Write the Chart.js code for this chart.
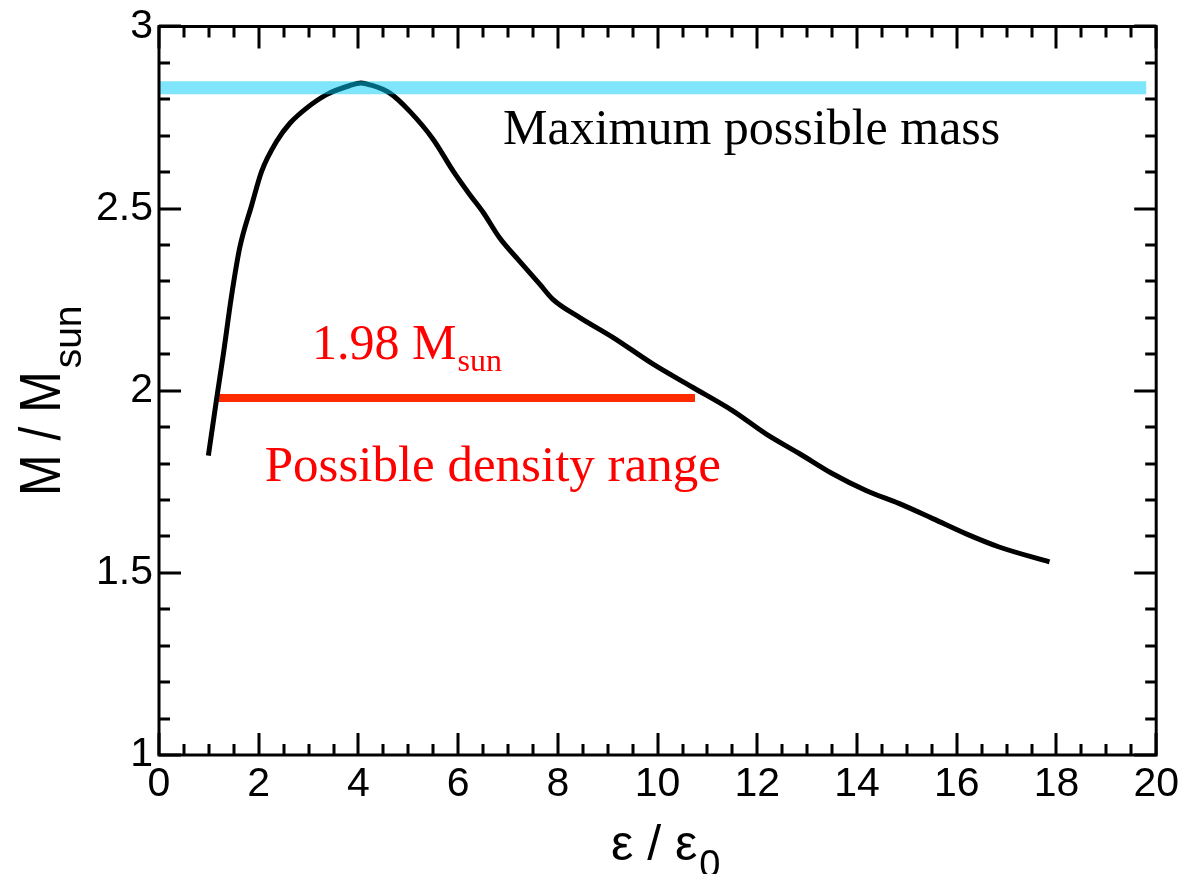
<!DOCTYPE html>
<html>
<head>
<meta charset="utf-8">
<script src="https://cdn.jsdelivr.net/npm/chart.js@4.4.1/dist/chart.umd.min.js"></script>
<style>
  html, body { margin: 0; padding: 0; background: #fff; }
  #wrap { width: 1188px; height: 874px; }
</style>
</head>
<body>
<div id="wrap"><canvas id="massChart" width="1188" height="874"></canvas></div>
<script>
// mass curve M/Msun against central density eps/eps0
const epsValues = [0.99, 1.16, 1.29, 1.46, 1.62, 1.86, 2.06, 2.36, 2.63, 2.96, 3.36, 3.83, 4.05, 4.23, 4.63, 5.03, 5.5, 5.9, 6.23, 6.5, 6.83, 7.23, 7.64, 7.9, 8.44, 9.11, 9.91, 10.71, 11.51, 12.18, 12.85, 13.51, 14.18, 14.85, 15.52, 16.19, 16.85, 17.86];
const massValues = [1.822, 1.982, 2.1, 2.265, 2.393, 2.51, 2.603, 2.685, 2.735, 2.776, 2.813, 2.838, 2.845, 2.84, 2.817, 2.767, 2.69, 2.603, 2.539, 2.49, 2.42, 2.356, 2.292, 2.251, 2.201, 2.146, 2.073, 2.009, 1.945, 1.881, 1.827, 1.772, 1.726, 1.69, 1.649, 1.607, 1.571, 1.53];

// horizontal markers
const maxMass = 2.832;
const maxMassSpan = [0, 19.8];
const observedMass = 1.98;
const densityRange = [1.14, 10.75];

// axis ticks
const xTickLabels = [0, 2, 4, 6, 8, 10, 12, 14, 16, 18, 20];
const yTickLabels = [1, 1.5, 2, 2.5, 3];

const SANS = '"Liberation Sans", Arial, Helvetica, sans-serif';
const SERIF = '"Liberation Serif", "Times New Roman", serif';

// draws the boxed frame with inward major/minor ticks on all four sides
const frameTicks = {
    id: 'frameTicks',
    afterDatasetsDraw(chart) {
        const { ctx, chartArea: a, scales } = chart;
        const xs = scales.x, ys = scales.y;
        ctx.save();
        ctx.strokeStyle = '#000';
        ctx.lineWidth = 3;
        ctx.lineCap = 'butt';
        ctx.beginPath();
        for (let v = 0; v <= 20.001; v += 0.5) {
            const px = Math.round(xs.getPixelForValue(v));
            const len = Math.abs(v / 2 - Math.round(v / 2)) < 1e-6 ? 22 : 11;
            ctx.moveTo(px, a.bottom); ctx.lineTo(px, a.bottom - len);
            ctx.moveTo(px, a.top); ctx.lineTo(px, a.top + len);
        }
        for (let v = 1; v <= 3.001; v += 0.1) {
            const py = Math.round(ys.getPixelForValue(v));
            const major = Math.abs(v * 2 - Math.round(v * 2)) < 1e-6;
            const len = major ? 22 : 11;
            ctx.moveTo(a.left, py); ctx.lineTo(a.left + len, py);
            ctx.moveTo(a.right, py); ctx.lineTo(a.right - len, py);
        }
        ctx.stroke();
        ctx.strokeRect(a.left, a.top, a.right - a.left, a.bottom - a.top);
        ctx.restore();
    }
};

// axis titles with subscripts, and the text notes inside the plot
const labelsPlugin = {
    id: 'labelsPlugin',
    afterDraw(chart) {
        const { ctx, scales } = chart;
        const xs = scales.x, ys = scales.y;
        ctx.save();
        ctx.textBaseline = 'alphabetic';
        ctx.textAlign = 'left';

        // y title, rotated; main part slightly condensed
        ctx.save();
        ctx.translate(60, 496);
        ctx.rotate(-Math.PI / 2);
        ctx.fillStyle = '#000';
        ctx.font = '58px ' + SANS;
        const yMain = 'M / M';
        const yw = ctx.measureText(yMain).width * 0.86;
        ctx.save();
        ctx.scale(0.86, 1);
        ctx.fillText(yMain, 0, 0);
        ctx.restore();
        ctx.font = '39px ' + SANS;
        ctx.fillText('sun', yw + 3, 21);
        ctx.restore();

        // x title
        ctx.fillStyle = '#000';
        ctx.font = '50px ' + SANS;
        const xMain = 'ε / ε';
        ctx.fillText(xMain, 611, 860);
        const xw = ctx.measureText(xMain).width;
        ctx.font = '38px ' + SANS;
        ctx.fillText('0', 611 + xw + 2, 877);

        // notes
        ctx.font = '50px ' + SERIF;
        ctx.fillStyle = '#000';
        ctx.fillText('Maximum possible mass', xs.getPixelForValue(6.9), ys.getPixelForValue(2.677));

        ctx.fillStyle = '#ff0000';
        const obsText = observedMass.toFixed(2) + ' M';
        const ox = xs.getPixelForValue(3.07), oy = ys.getPixelForValue(2.088);
        ctx.fillText(obsText, ox, oy);
        const ow = ctx.measureText(obsText).width;
        ctx.font = '32px ' + SERIF;
        ctx.fillText('sun', ox + ow + 1, oy + 12);

        ctx.font = '51px ' + SERIF;
        ctx.fillText('Possible density range', xs.getPixelForValue(2.12), ys.getPixelForValue(1.751));
        ctx.restore();
    }
};

const ctx = document.getElementById('massChart').getContext('2d');
const chart = new Chart(ctx, {
    type: 'line',
    data: {
        datasets: [
            {
                label: 'max mass',
                data: maxMassSpan.map(x => ({ x: x, y: maxMass })),
                borderColor: 'rgba(0, 203, 245, 0.5)',
                borderWidth: 13,
                pointRadius: 0
            },
            {
                label: 'M(eps)',
                data: epsValues.map((x, i) => ({ x: x, y: massValues[i] })),
                borderColor: '#000',
                borderWidth: 5,
                pointRadius: 0,
                cubicInterpolationMode: 'monotone'
            },
            {
                label: 'density range',
                data: densityRange.map(x => ({ x: x, y: observedMass })),
                borderColor: '#ff2a00',
                borderWidth: 8,
                pointRadius: 0
            }
        ]
    },
    options: {
        responsive: false,
        animation: false,
        layout: { padding: { top: 25, right: 31, left: 0, bottom: 0 } },
        plugins: {
            legend: { display: false },
            tooltip: { enabled: false }
        },
        scales: {
            x: {
                type: 'linear',
                min: 0,
                max: 20,
                afterBuildTicks(scale) { scale.ticks = xTickLabels.map(v => ({ value: v })); },
                afterFit(scale) { scale.height = 119; },
                grid: { display: false, drawTicks: false },
                border: { display: false },
                ticks: {
                    color: '#000',
                    padding: 9,
                    maxRotation: 0,
                    font: { family: SANS, size: 41, lineHeight: 1 },
                    callback: v => String(v)
                }
            },
            y: {
                type: 'linear',
                min: 1,
                max: 3,
                afterBuildTicks(scale) { scale.ticks = yTickLabels.map(v => ({ value: v })); },
                afterFit(scale) { scale.width = 159; },
                grid: { display: false, drawTicks: false },
                border: { display: false },
                ticks: {
                    color: '#000',
                    padding: 6,
                    font: { family: SANS, size: 41, lineHeight: 1 },
                    callback: v => String(v)
                }
            }
        }
    },
    plugins: [frameTicks, labelsPlugin]
});
</script>
</body>
</html>
